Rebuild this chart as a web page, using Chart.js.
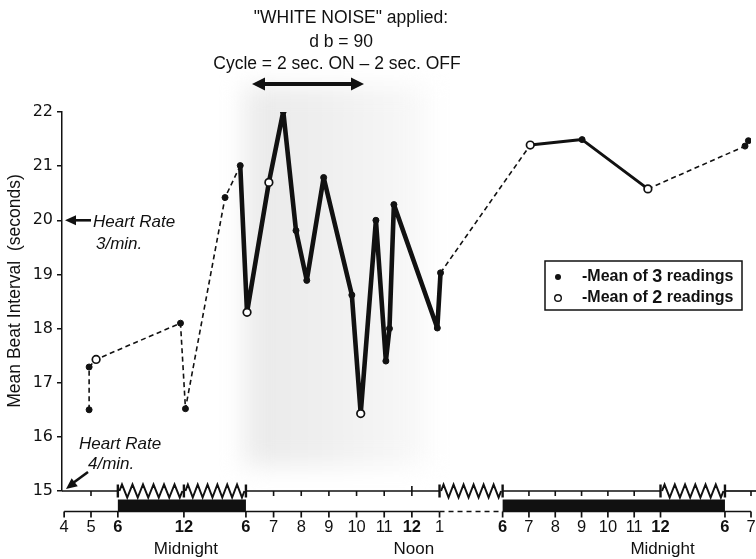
<!DOCTYPE html>
<html>
<head>
<meta charset="utf-8">
<script src="https://cdn.jsdelivr.net/npm/chart.js@4.4.1/dist/chart.umd.min.js"></script>
<style>
  html, body { margin: 0; padding: 0; background: #fff; }
  #wrap { width: 756px; height: 559px; position: relative; }
</style>
</head>
<body>
<div id="wrap"><canvas id="c" width="756" height="559"></canvas></div>
<script>
// Sample times, in hours elapsed since 4 p.m. of the first day
const sampleHours = [0.93, 0.93, 1.19, 7.69, 8.15, 11.98, 13.45, 14.04, 14.83, 15.35, 15.81, 16.2, 16.81,
  17.83, 18.15, 18.7, 19.06, 19.19, 19.35, 20.92, 21.08, 27.05, 29.02, 31.52, 38.77, 38.9];
// Mean beat interval (seconds)
const beatInterval = [16.5, 17.29, 17.43, 18.1, 16.52, 20.42, 21.01, 18.3, 20.7, 22.01, 19.81, 18.89, 20.79,
  18.62, 16.43, 20.0, 17.4, 18.0, 20.29, 18.01, 19.03, 21.39, 21.49, 20.58, 21.37, 21.47];
// Number of readings averaged for each mean
const readingsPerMean = [3, 3, 2, 3, 3, 3, 3, 2, 2, 3, 3, 3, 3, 3, 2, 3, 3, 3, 3, 3, 3, 2, 3, 2, 3, 3];
// How the line leaving each sample is drawn
const segmentKind = ['dash', 'dash', 'dash', 'dash', 'dash', 'dash', 'heavy', 'heavy', 'heavy', 'heavy', 'heavy',
  'heavy', 'heavy', 'heavy', 'heavy', 'heavy', 'heavy', 'heavy', 'heavy', 'heavy', 'dash', 'solid', 'solid',
  'dash', 'dash'];

// Time axis: labelled hours and their clock labels
const tickHours = [0, 1, 2, 8, 14, 15, 16, 17, 18, 19, 20, 21, 26, 27, 28, 29, 30, 31, 32, 38, 39];
const tickLabels = ['4', '5', '6', '12', '6', '7', '8', '9', '10', '11', '12', '1', '6', '7', '8', '9', '10', '11', '12', '6', '7'];
const boldLabels = ['6', '12'];
const dayMarks = [[8, 'Midnight'], [20, 'Noon'], [32, 'Midnight']];
// Dark periods (lights off)
const nightSpans = [[2, 14], [26, 38]];
// Stretches of the time axis drawn compressed (shown with a zigzag)
const compressedSpans = [[2, 8], [8, 14], [21, 26], [32, 38]];
// Piecewise time scale: [end hour, axis units per hour]
const timeScale = [[2, 1], [8, 0.41], [14, 0.385], [21, 1.03], [26, 0.47], [32, 0.98], [38, 0.4], [39, 0.97]];

function axisPos(h) {
  let pos = 0, start = 0;
  for (const [end, f] of timeScale) {
    if (h <= end) return pos + (h - start) * f;
    pos += (end - start) * f;
    start = end;
  }
  return pos + (h - start) * timeScale[timeScale.length - 1][1];
}

const INK = '#111';
const SANS = '"Liberation Sans", Arial, sans-serif';

function arrowHead(ctx, x, y, ang, len, half) {
  ctx.beginPath();
  ctx.moveTo(x, y);
  ctx.lineTo(x - len * Math.cos(ang) + half * Math.sin(ang), y - len * Math.sin(ang) - half * Math.cos(ang));
  ctx.lineTo(x - len * Math.cos(ang) - half * Math.sin(ang), y - len * Math.sin(ang) + half * Math.cos(ang));
  ctx.closePath();
  ctx.fill();
}

function zigzag(ctx, x1, x2, y, amp) {
  const n = Math.max(2, Math.round((x2 - x1) / 10.5));
  const step = (x2 - x1) / n;
  ctx.beginPath();
  ctx.moveTo(x1, y);
  for (let i = 0; i < n; i++) {
    const xa = x1 + step * i;
    ctx.lineTo(xa + step * 0.25, y - amp);
    ctx.lineTo(xa + step * 0.75, y + amp);
    ctx.lineTo(xa + step, y);
  }
  ctx.stroke();
}

const decorations = {
  id: 'decorations',
  beforeDraw(chart) {
    // soft grey band behind the noise period
    const ctx = chart.ctx;
    const xs = chart.scales.x;
    const x1 = xs.getPixelForValue(axisPos(13.9));
    const x2 = xs.getPixelForValue(axisPos(20.6));
    ctx.save();
    ctx.filter = 'blur(12px)';
    const g = ctx.createLinearGradient(x1, 0, x2, 0);
    g.addColorStop(0, 'rgba(234,234,234,1)');
    g.addColorStop(0.4, 'rgba(238,238,238,1)');
    g.addColorStop(1, 'rgba(249,249,249,1)');
    ctx.fillStyle = g;
    ctx.fillRect(x1, 86, x2 - x1, 380);
    ctx.restore();
  },
  afterDraw(chart) {
    const ctx = chart.ctx;
    const xs = chart.scales.x, ys = chart.scales.y;
    const X = h => xs.getPixelForValue(axisPos(h));
    const yTop = ys.getPixelForValue(15);
    const yLow = yTop + 20.5;
    const left = chart.chartArea.left;
    ctx.save();
    ctx.strokeStyle = INK;
    ctx.fillStyle = INK;
    ctx.lineCap = 'butt';

    // upper time line at 15 s, zigzag where compressed
    ctx.lineWidth = 1.7;
    const breaks = compressedSpans.map(([a, b]) => [X(a), X(b)]);
    let cur = left;
    for (const [a, b] of breaks) {
      if (a > cur) {
        ctx.beginPath(); ctx.moveTo(cur, yTop); ctx.lineTo(a, yTop); ctx.stroke();
      }
      ctx.lineWidth = 2;
      zigzag(ctx, a + 1.5, b - 1.5, yTop, 6.5);
      ctx.lineWidth = 1.7;
      cur = b;
    }
    ctx.beginPath(); ctx.moveTo(cur, yTop); ctx.lineTo(chart.width, yTop); ctx.stroke();
    // end bars of the zigzags
    ctx.lineWidth = 2.4;
    const bars = new Set();
    compressedSpans.forEach(([a, b]) => { bars.add(a); bars.add(b); });
    bars.forEach(h => {
      ctx.beginPath(); ctx.moveTo(X(h), yTop - 6.5); ctx.lineTo(X(h), yTop + 6.5); ctx.stroke();
    });
    // hour ticks on the upper line
    ctx.lineWidth = 1.6;
    tickHours.forEach(h => {
      if (h === 0 || bars.has(h)) return;
      ctx.beginPath();
      const up = (h === 20) ? 5 : 0;
      ctx.moveTo(X(h), yTop - up); ctx.lineTo(X(h), yTop + 5); ctx.stroke();
    });

    // night bars
    nightSpans.forEach(([a, b]) => {
      ctx.fillRect(X(a), yLow - 12, X(b) - X(a), 12);
    });

    // lower time axis, dashed over the afternoon gap
    ctx.lineWidth = 1.7;
    ctx.beginPath(); ctx.moveTo(X(0), yLow); ctx.lineTo(X(21), yLow); ctx.stroke();
    ctx.setLineDash([5, 4]);
    ctx.beginPath(); ctx.moveTo(X(21), yLow); ctx.lineTo(X(26), yLow); ctx.stroke();
    ctx.setLineDash([]);
    ctx.beginPath(); ctx.moveTo(X(26), yLow); ctx.lineTo(X(39), yLow); ctx.stroke();
    tickHours.forEach(h => {
      ctx.beginPath(); ctx.moveTo(X(h), yLow); ctx.lineTo(X(h), yLow + 6); ctx.stroke();
    });

    // Midnight / Noon
    ctx.font = '17px ' + SANS;
    ctx.textAlign = 'center';
    ctx.textBaseline = 'middle';
    dayMarks.forEach(([h, t]) => ctx.fillText(t, X(h) + 2, 549));

    // y-axis title
    ctx.save();
    ctx.translate(15, 291);
    ctx.rotate(-Math.PI / 2);
    ctx.font = '17.5px ' + SANS;
    ctx.fillText('Mean Beat Interval  (seconds)', 0, 0);
    ctx.restore();

    // heading
    ctx.font = '17.5px ' + SANS;
    ctx.fillText('"WHITE NOISE" applied:', 351, 18);
    ctx.fillText('d b = 90', 341, 42);
    ctx.fillText('Cycle = 2 sec. ON \u2013 2 sec. OFF', 337, 64);
    ctx.lineWidth = 4;
    ctx.beginPath(); ctx.moveTo(262, 84); ctx.lineTo(354, 84); ctx.stroke();
    arrowHead(ctx, 252, 84, Math.PI, 13, 6.5);
    arrowHead(ctx, 364, 84, 0, 13, 6.5);

    // heart-rate reference marks
    ctx.textAlign = 'left';
    ctx.font = 'italic 17px ' + SANS;
    const y20 = ys.getPixelForValue(20);
    ctx.fillText('Heart Rate', 93, y20 + 2);
    ctx.fillText('3/min.', 96, y20 + 24);
    ctx.lineWidth = 2.6;
    ctx.beginPath(); ctx.moveTo(91, y20); ctx.lineTo(74, y20); ctx.stroke();
    arrowHead(ctx, 65, y20, Math.PI, 11, 5);
    ctx.fillText('Heart Rate', 79, 444);
    ctx.fillText('4/min.', 88, 464);
    ctx.beginPath(); ctx.moveTo(88, 472); ctx.lineTo(73, 483); ctx.stroke();
    arrowHead(ctx, 66, yTop - 2, Math.atan2(yTop - 2 - 472, 66 - 88), 11, 5);

    // legend
    ctx.lineWidth = 1.5;
    ctx.strokeRect(545, 261, 197, 49);
    const rows = [[277, true, '3'], [298, false, '2']];
    rows.forEach(([ry, filled, n]) => {
      ctx.beginPath();
      ctx.arc(558, ry, filled ? 3 : 3.3, 0, Math.PI * 2);
      if (filled) ctx.fill(); else { ctx.lineWidth = 1.4; ctx.stroke(); }
      ctx.font = 'bold 16px ' + SANS;
      let x = 582;
      const a = '-Mean of ';
      ctx.fillText(a, x, ry); x += ctx.measureText(a).width;
      ctx.font = 'bold 18px ' + SANS;
      ctx.fillText(n, x, ry); x += ctx.measureText(n).width;
      ctx.font = 'bold 16px ' + SANS;
      ctx.fillText(' readings', x, ry);
    });
    ctx.restore();
  }
};

const points = sampleHours.map((h, i) => ({ x: axisPos(h), y: beatInterval[i] }));
const widths = { dash: 1.6, heavy: 4.6, solid: 3 };

new Chart(document.getElementById('c'), {
  type: 'line',
  data: {
    datasets: [{
      data: points,
      borderColor: INK,
      borderWidth: 1.6,
      borderJoinStyle: 'round',
      tension: 0,
      fill: false,
      pointRadius: readingsPerMean.map(n => n === 3 ? 3 : 3.8),
      pointBorderWidth: readingsPerMean.map(n => n === 3 ? 1 : 1.7),
      pointBackgroundColor: readingsPerMean.map(n => n === 3 ? INK : '#fff'),
      pointBorderColor: INK,
      segment: {
        borderDash: c => segmentKind[c.p0DataIndex] === 'dash' ? [5, 3.5] : [],
        borderWidth: c => widths[segmentKind[c.p0DataIndex]]
      }
    }]
  },
  options: {
    responsive: false,
    animation: false,
    devicePixelRatio: 1,
    layout: { padding: { top: 112, right: 5, left: 0, bottom: 0 } },
    plugins: { legend: { display: false }, tooltip: { enabled: false } },
    scales: {
      x: {
        type: 'linear',
        min: -0.08,
        max: axisPos(39),
        afterFit: s => { s.height = 68; s.paddingLeft = 0; s.paddingRight = 0; },
        afterBuildTicks: s => { s.ticks = tickHours.map(h => ({ value: axisPos(h) })); },
        grid: { display: false, drawTicks: false },
        border: { display: false },
        ticks: {
          autoSkip: false,
          maxRotation: 0,
          padding: 27,
          color: INK,
          callback: (v, i) => tickLabels[i],
          font: c => ({ family: SANS, size: 16.5, weight: boldLabels.includes(tickLabels[c.index]) ? 'bold' : 'normal' })
        }
      },
      y: {
        min: 15,
        max: 22,
        afterFit: s => { s.width = 62; s.paddingTop = 0; s.paddingBottom = 0; },
        ticks: { stepSize: 1, padding: 4, color: INK, font: { family: '"DejaVu Sans", sans-serif', size: 16 } },
        grid: { drawOnChartArea: false, drawTicks: true, tickLength: 5, color: INK, lineWidth: 1.5 },
        border: { color: INK, width: 1.5 }
      }
    }
  },
  plugins: [decorations]
});
</script>
</body>
</html>
